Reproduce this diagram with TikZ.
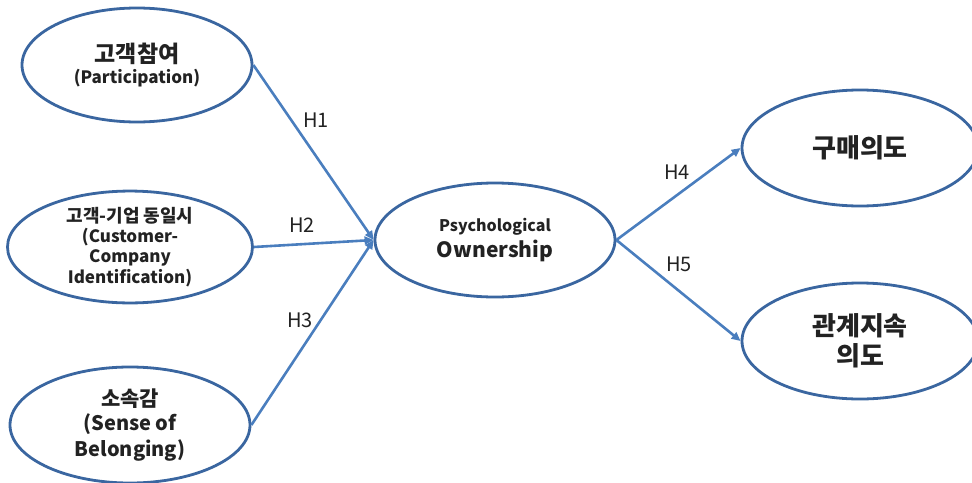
\documentclass[tikz,border=0pt]{standalone}
\usepackage{fontspec}
\setmainfont{Noto Sans CJK KR}
\usetikzlibrary{shapes.geometric,arrows.meta}
\definecolor{ellblue}{HTML}{3A66A0}
\definecolor{arrblue}{HTML}{4A7EBE}
\definecolor{txt}{HTML}{222222}
\newcommand{\fs}[1]{\fontsize{#1}{#1}\selectfont}
\tikzset{
  oval/.style={ellipse, draw=ellblue, line width=2.8pt, fill=white, inner sep=0pt,
    align=center, text=txt, font=\bfseries},
  link/.style={draw=arrblue, line width=2.6pt, -{Triangle[length=9pt,width=8pt]}},
  hlab/.style={text=txt, font=\fs{20}}
}
\begin{document}
\begin{tikzpicture}[x=1pt,y=-1pt]
\useasboundingbox (0,0) rectangle (972,482);
\begin{scope}
\clip (0,0) rectangle (972,482);
\node[oval, minimum width=230pt, minimum height=114pt] (e1) at (137,65)
  {{\fs{23}고객참여}\\[4pt]{\fs{17}(Participation)}};
\node[oval, minimum width=245pt, minimum height=106pt] (e2) at (130,247)
  {{\fs{18}고객-기업 동일시}\\[3pt]{\fs{17}(Customer-}\\[2pt]{\fs{17}Company}\\[2pt]{\fs{17}Identification)}};
\node[oval, minimum width=240pt, minimum height=116pt] (e3) at (130,425)
  {{\fs{21}소속감}\\[4pt]{\fs{20}(Sense of}\\[4pt]{\fs{20}Belonging)}};
\node[oval, minimum width=240pt, minimum height=114pt] (c) at (495,240)
  {{\fs{16}Psychological}\\[4pt]{\fs{21}Ownership}};
\node[oval, minimum width=236pt, minimum height=116pt] (r1) at (860,148)
  {{\fs{26}구매의도}};
\node[oval, minimum width=236pt, minimum height=116pt] (r2) at (860,341)
  {{\fs{26}관계지속}\\[4pt]{\fs{26}의도}};
\end{scope}
\draw[link] (e1.east) -- (c.west);
\draw[link] (e2.east) -- (c.west);
\draw[link] (e3.east) -- (c.west);
\draw[link] (c.east) -- (r1.west);
\draw[link] (c.east) -- (r2.west);
\node[hlab] (h1) at (316,120) {H1};
\node[hlab] (h2) at (302,225) {H2};
\node[hlab] (h3) at (300,320) {H3};
\node[hlab] (h4) at (677,172) {H4};
\node[hlab] (h5) at (679,264) {H5};
\end{tikzpicture}
\end{document}
